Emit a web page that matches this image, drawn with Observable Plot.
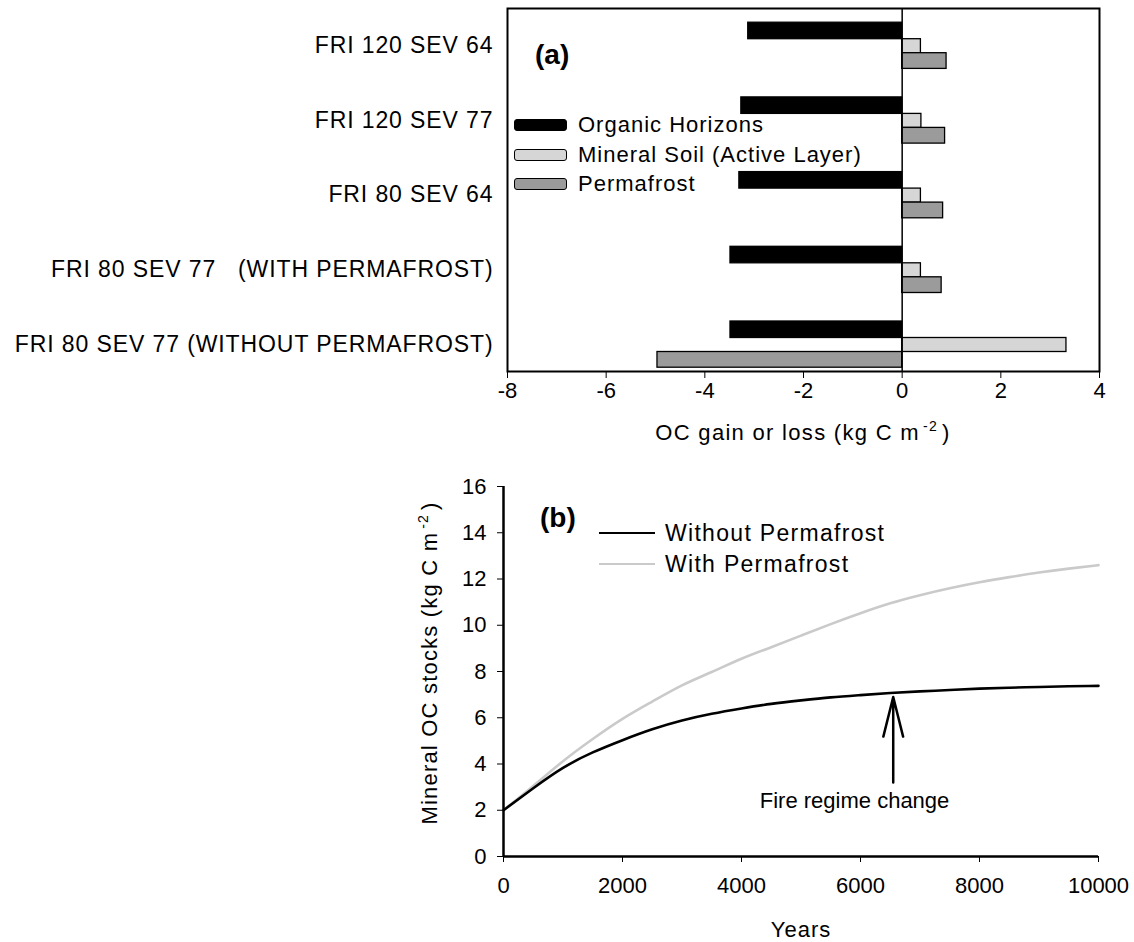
<!DOCTYPE html>
<html><head><meta charset="utf-8">
<script src="https://cdn.jsdelivr.net/npm/d3@7"></script>
<script src="https://cdn.jsdelivr.net/npm/@observablehq/plot@0.6"></script>
<style>
html,body{margin:0;padding:0;background:#fff;}
#root{position:relative;width:1134px;height:942px;font-family:"Liberation Sans",Arial,sans-serif;color:#000;overflow:hidden;}
#root svg{position:absolute;left:0;overflow:visible;}
#panelA{top:0;}
#panelB{top:450px;}
.lbl{position:absolute;white-space:nowrap;font-size:22px;line-height:1;letter-spacing:1px;}
.lbl sup{font-size:14px;vertical-align:0;position:relative;top:-9px;margin-left:3px;margin-right:4px;}
.row{position:absolute;display:flex;align-items:center;white-space:nowrap;font-size:22px;line-height:1;letter-spacing:1px;}
.sw{width:51px;height:10px;border:1.5px solid #000;border-radius:3px;margin-right:11px;}
.ln{width:56px;height:0;border-top:2.5px solid #000;margin-right:10px;}
.tag{position:absolute;font-weight:bold;font-size:28px;line-height:1;}
#panelA [aria-label="y-axis tick label"] text, #panelA .tick text[text-anchor="end"]{font-size:23px;letter-spacing:0.9px;}
</style>
</head><body>
<div id="root"></div>
<script>
// ---------- Panel (a) data ----------
const categories = [
  "FRI 120 SEV 64",
  "FRI 120 SEV 77",
  "FRI 80 SEV 64",
  "FRI 80 SEV 77\u00a0\u00a0\u00a0(WITH PERMAFROST)",
  "FRI 80 SEV 77 (WITHOUT PERMAFROST)"
];
const organic    = [-3.12, -3.26, -3.30, -3.48, -3.48];
const mineral    = [0.38, 0.39, 0.38, 0.38, 3.33];
const permafrost = [0.90, 0.87, 0.83, 0.80, -4.96];
const xTicksA = [-8, -6, -4, -2, 0, 2, 4];
const seriesA = ["Organic Horizons", "Mineral Soil (Active Layer)", "Permafrost"];
const colorsA = ["#000000", "#d6d6d6", "#9b9b9b"];

// ---------- Panel (b) data ----------
const years     = [0, 500, 1000, 1500, 2000, 2500, 3000, 3500, 4000, 4500, 5000, 5500, 6000, 6500, 7000, 7500, 8000, 8500, 9000, 9500, 10000];
const withoutPf = [2.0, 2.95, 3.83, 4.50, 5.03, 5.50, 5.88, 6.17, 6.40, 6.60, 6.75, 6.88, 6.98, 7.07, 7.14, 7.20, 7.26, 7.30, 7.33, 7.36, 7.38];
const withPf    = [2.0, 3.05, 4.12, 5.08, 5.95, 6.70, 7.40, 7.98, 8.55, 9.05, 9.55, 10.05, 10.52, 10.95, 11.30, 11.60, 11.86, 12.08, 12.28, 12.45, 12.60];
const xTicksB = [0, 2000, 4000, 6000, 8000, 10000];
const yTicksB = [0, 2, 4, 6, 8, 10, 12, 14, 16];
const seriesB = ["Without Permafrost", "With Permafrost"];
const colorsB = ["#000000", "#cacaca"];
// arrow: drawn from a lower anchor with the start inset, so the head can be long
const arrowYear = [6550], arrowFrom = [1.6], arrowTo = [6.9];
const noteYear = [5900], noteValue = [2.42], noteText = ["Fire regime change"];

const FONT = '"Liberation Sans", Arial, sans-serif';
const root = document.getElementById("root");

// ---------- Panel (a) ----------
const barsA = categories.map((c, i) => ({category: c, organic: organic[i], mineral: mineral[i], permafrost: permafrost[i]}));
const band = 74.7;
const svgA = Plot.plot({
  width: 1134, height: 450,
  marginLeft: 507, marginRight: 35, marginTop: 8, marginBottom: 79,
  style: {fontFamily: FONT, fontSize: "22px", background: "transparent", color: "#000"},
  x: {domain: [-8, 4], ticks: xTicksA, tickSize: 7, tickPadding: 4, label: null, tickFormat: d => String(d)},
  y: {type: "band", domain: categories, range: [7.85, 7.85 + band * 5], padding: 0, round: false, tickSize: 0, tickPadding: 14, label: null},
  marks: [
    Plot.barX(barsA, {x: "organic", y: "category", fill: colorsA[0], stroke: "#000", strokeWidth: 1.3, insetTop: 14.35, insetBottom: band - 14.35 - 16.5}),
    Plot.barX(barsA, {x: "mineral", y: "category", fill: colorsA[1], stroke: "#000", strokeWidth: 1.3, insetTop: 30.85, insetBottom: band - 30.85 - 14}),
    Plot.barX(barsA, {x: "permafrost", y: "category", fill: colorsA[2], stroke: "#000", strokeWidth: 1.3, insetTop: 44.85, insetBottom: band - 44.85 - 15.7}),
    Plot.ruleX([0], {stroke: "#000", strokeWidth: 1.5}),
    Plot.frame({stroke: "#000", strokeWidth: 2})
  ]
});
svgA.id = "panelA";
root.appendChild(svgA);

// ---------- Panel (b) ----------
const lineWithout = years.map((y, i) => ({year: y, value: withoutPf[i]}));
const lineWith = years.map((y, i) => ({year: y, value: withPf[i]}));
const arrowData = arrowYear.map((y, i) => ({year: y, from: arrowFrom[i], to: arrowTo[i]}));
const noteData = noteYear.map((y, i) => ({year: y, value: noteValue[i], text: noteText[i]}));
const svgB = Plot.plot({
  width: 1134, height: 492,
  marginLeft: 503, marginRight: 36, marginTop: 36, marginBottom: 86,
  style: {fontFamily: FONT, fontSize: "22px", background: "transparent", color: "#000"},
  x: {domain: [0, 10000], ticks: xTicksB, tickSize: 6, tickPadding: 15, label: null, tickFormat: d => String(d)},
  y: {domain: [0, 16], ticks: yTicksB, tickSize: 6, tickPadding: 11, label: null, tickFormat: d => String(d)},
  marks: [
    Plot.line(lineWith, {x: "year", y: "value", stroke: colorsB[1], strokeWidth: 2.6, curve: "natural"}),
    Plot.line(lineWithout, {x: "year", y: "value", stroke: colorsB[0], strokeWidth: 2.6, curve: "natural"}),
    Plot.arrow(arrowData, {x1: "year", x2: "year", y1: "from", y2: "to", stroke: "#000", strokeWidth: 2.5, headAngle: 28, headLength: 36, insetStart: 37}),
    Plot.text(noteData, {x: "year", y: "value", text: "text", fontSize: 22, fill: "#000", style: "letter-spacing:1px"}),
    Plot.ruleX([0], {stroke: "#000", strokeWidth: 2.5}),
    Plot.ruleY([0], {stroke: "#000", strokeWidth: 2.5})
  ]
});
svgB.id = "panelB";
root.appendChild(svgB);

// ---------- HTML text: tags, legends, axis titles ----------
function add(html, cls, css) {
  const d = document.createElement("div");
  d.className = cls; d.innerHTML = html;
  Object.assign(d.style, css);
  root.appendChild(d);
  return d;
}
add("(a)", "tag", {left: "535px", top: "41px"});
add("(b)", "tag", {left: "540px", top: "504px"});

const legA = [125, 155, 184];
seriesA.forEach((s, i) => {
  add(`<div class="sw" style="background:${colorsA[i]}"></div><span>${s}</span>`, "row", {left: "514px", top: (legA[i] - 11) + "px", height: "22px"});
});
const legB = [533, 564];
seriesB.forEach((s, i) => {
  add(`<div class="ln" style="border-top-color:${colorsB[i]}"></div><span style="font-size:23px;letter-spacing:1.3px">${s}</span>`, "row", {left: "599px", top: (legB[i] - 12) + "px", height: "24px"});
});

add("OC gain or loss (kg C m<sup>-2</sup>)", "lbl", {left: "803px", top: "433px", transform: "translate(-50%,-50%)", letterSpacing: "1.3px"});
add("Years", "lbl", {left: "801px", top: "930px", transform: "translate(-50%,-50%)"});
add("Mineral OC stocks (kg C m<sup>-2</sup>)", "lbl", {left: "430px", top: "663px", transform: "translate(-50%,-50%) rotate(-90deg)", letterSpacing: "1.2px"});
</script>
</body></html>
